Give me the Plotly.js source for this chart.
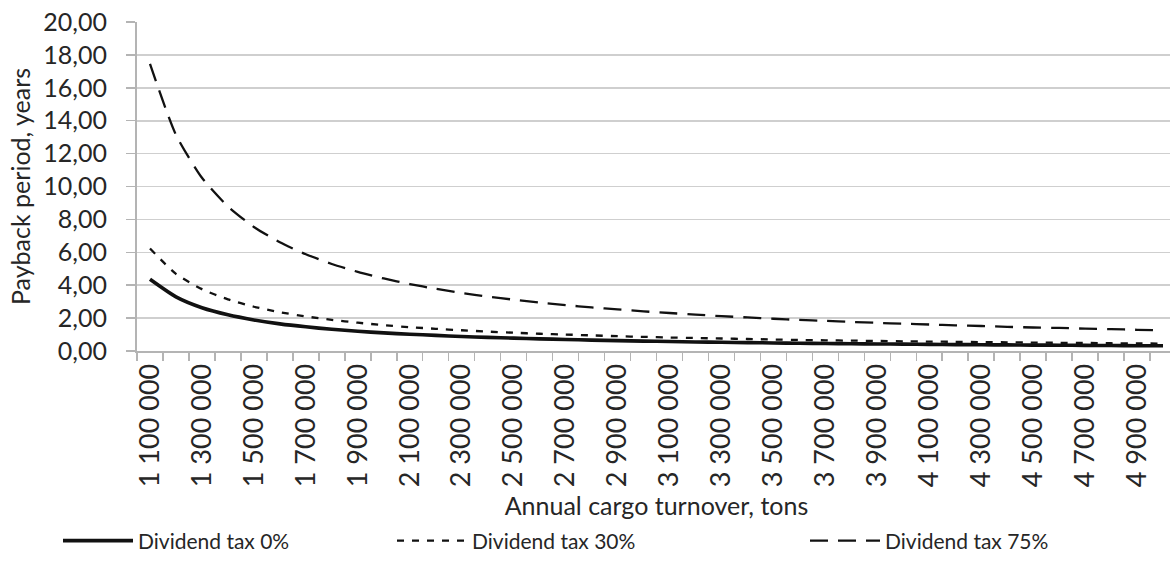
<!DOCTYPE html>
<html>
<head>
<meta charset="utf-8">
<script src="https://cdn.plot.ly/plotly-3.0.1.min.js"></script>
<style>
  html, body { margin: 0; padding: 0; overflow: hidden; background: #fff; }
  #chart { width: 1180px; height: 569px; }
</style>
</head>
<body>
<div id="chart"></div>
<script>
const categories = [
  "1 100 000","1 200 000","1 300 000","1 400 000","1 500 000","1 600 000","1 700 000","1 800 000",
  "1 900 000","2 000 000","2 100 000","2 200 000","2 300 000","2 400 000","2 500 000","2 600 000",
  "2 700 000","2 800 000","2 900 000","3 000 000","3 100 000","3 200 000","3 300 000","3 400 000",
  "3 500 000","3 600 000","3 700 000","3 800 000","3 900 000","4 000 000","4 100 000","4 200 000",
  "4 300 000","4 400 000","4 500 000","4 600 000","4 700 000","4 800 000","4 900 000","5 000 000"
];
const tax0 = [4.36,3.29,2.63,2.20,1.89,1.65,1.47,1.32,1.20,1.10,1.02,0.95,0.88,0.83,0.78,0.74,0.70,0.66,0.63,0.60,
              0.58,0.55,0.53,0.51,0.49,0.47,0.46,0.44,0.43,0.42,0.40,0.39,0.38,0.37,0.36,0.35,0.34,0.33,0.32,0.32];
const tax30 = [6.23,4.69,3.76,3.14,2.69,2.36,2.10,1.89,1.72,1.57,1.45,1.35,1.26,1.18,1.11,1.05,1.00,0.95,0.90,0.86,
               0.82,0.79,0.76,0.73,0.70,0.67,0.65,0.63,0.61,0.59,0.57,0.56,0.54,0.53,0.51,0.50,0.49,0.47,0.46,0.45];
const tax75 = [17.45,13.14,10.53,8.79,7.54,6.61,5.88,5.29,4.81,4.41,4.07,3.78,3.53,3.31,3.12,2.94,2.79,2.65,2.53,2.41,
               2.31,2.21,2.12,2.04,1.96,1.89,1.83,1.77,1.71,1.66,1.61,1.56,1.52,1.47,1.43,1.40,1.36,1.33,1.29,1.26];
const seriesNames = ["Dividend tax 0%", "Dividend tax 30%", "Dividend tax 75%"];
const yTickValues = [0,2,4,6,8,10,12,14,16,18,20];

const FONT = "Lato, 'Open Sans', sans-serif";
const TXT = "#262626";

const traces = [
  {x: categories, y: tax0, name: seriesNames[0], type: "scatter", mode: "lines", legend: "legend",
   line: {color: "#111", width: 3.6, shape: "spline", smoothing: 0.6}},
  {x: categories, y: tax30, name: seriesNames[1], type: "scatter", mode: "lines", legend: "legend2",
   line: {color: "#111", width: 2.3, dash: "7px,8px", shape: "spline", smoothing: 0.6}},
  {x: categories, y: tax75, name: seriesNames[2], type: "scatter", mode: "lines", legend: "legend3",
   line: {color: "#111", width: 2.3, dash: "18px,10px", shape: "spline", smoothing: 0.6}}
];

const legendBase = {
  orientation: "h", xref: "container", yref: "container", xanchor: "left", yanchor: "middle",
  font: {family: FONT, size: 21, color: TXT}, itemwidth: 70, bgcolor: "rgba(0,0,0,0)",
  itemclick: false
};

const layout = {
  width: 1180, height: 569,
  margin: {l: 137, r: 4, t: 22, b: 218},
  paper_bgcolor: "#fff", plot_bgcolor: "#fff",
  separators: ", ",
  font: {family: FONT, color: TXT},
  showlegend: true,
  xaxis: {
    type: "category",
    range: [-0.5, 39.5],
    tickmode: "linear", tick0: 0, dtick: 1,
    tickson: "boundaries",
    ticks: "outside", ticklen: 8, tickwidth: 1.5, tickcolor: "#b4b4b4",
    ticklabelstep: 2,
    tickangle: -90,
    tickfont: {family: FONT, size: 27, color: TXT},
    showgrid: false,
    showline: true, linecolor: "#b4b4b4", linewidth: 2,
    zeroline: false,
    fixedrange: true,
    title: {text: "Annual cargo turnover, tons", font: {family: FONT, size: 25, color: TXT}, standoff: 11}
  },
  yaxis: {
    range: [0, 20],
    tickmode: "array", tickvals: yTickValues,
    tickformat: ".2f",
    ticks: "outside", ticklen: 9, tickwidth: 1.5, tickcolor: "#b4b4b4",
    tickfont: {family: FONT, size: 25, color: TXT},
    ticklabelstandoff: 14,
    showgrid: true, gridcolor: "#cfcfcf", gridwidth: 1.6,
    showline: true, linecolor: "#b4b4b4", linewidth: 2,
    zeroline: false,
    fixedrange: true,
    title: {text: "Payback period, years", font: {family: FONT, size: 25, color: TXT}, standoff: 6}
  },
  legend: Object.assign({}, legendBase, {x: 58 / 1180, y: 28 / 569}),
  legend2: Object.assign({}, legendBase, {x: 392 / 1180, y: 28 / 569}),
  legend3: Object.assign({}, legendBase, {x: 805 / 1180, y: 28 / 569})
};

Plotly.newPlot("chart", traces, layout, {displayModeBar: false, staticPlot: true});
</script>
</body>
</html>
